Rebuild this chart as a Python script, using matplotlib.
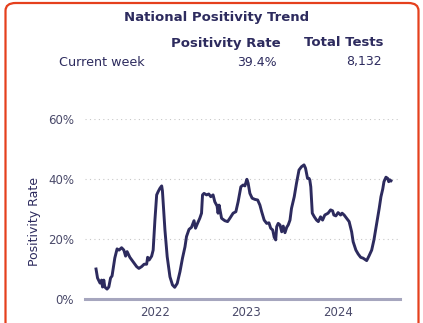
import matplotlib
matplotlib.use('Agg')
import matplotlib.pyplot as plt
import matplotlib.dates as mdates
from matplotlib.patches import FancyBboxPatch
import pandas as pd

# Weekly positivity readings (date, percent)
dates = [
    '2021-05-11', '2021-05-17', '2021-05-27', '2021-06-02', '2021-06-06', '2021-06-11',
    '2021-06-15', '2021-06-24', '2021-07-01', '2021-07-08', '2021-07-14', '2021-07-25',
    '2021-08-03', '2021-08-11', '2021-08-21', '2021-08-30', '2021-09-06', '2021-09-12',
    '2021-09-23', '2021-10-06', '2021-10-20', '2021-10-29', '2021-11-09', '2021-11-19',
    '2021-11-29', '2021-12-03', '2021-12-09', '2021-12-19', '2021-12-25', '2022-01-01',
    '2022-01-08', '2022-01-14', '2022-01-21', '2022-01-28', '2022-01-31', '2022-02-04',
    '2022-02-10', '2022-02-19', '2022-03-02', '2022-03-12', '2022-03-21', '2022-03-31',
    '2022-04-11', '2022-04-21', '2022-05-01', '2022-05-07', '2022-05-17', '2022-05-27',
    '2022-06-06', '2022-06-12', '2022-06-20', '2022-06-29', '2022-07-06', '2022-07-10',
    '2022-07-16', '2022-07-26', '2022-08-04', '2022-08-12', '2022-08-21', '2022-08-28',
    '2022-09-06', '2022-09-10', '2022-09-14', '2022-09-24', '2022-10-07', '2022-10-18',
    '2022-10-27', '2022-11-09', '2022-11-20', '2022-11-29', '2022-12-10', '2022-12-19',
    '2022-12-26', '2023-01-03', '2023-01-08', '2023-01-15', '2023-01-24', '2023-02-04',
    '2023-02-15', '2023-02-24', '2023-03-03', '2023-03-13', '2023-03-23', '2023-04-01',
    '2023-04-08', '2023-04-16', '2023-04-22', '2023-04-28', '2023-05-02', '2023-05-08',
    '2023-05-15', '2023-05-22', '2023-05-28', '2023-06-04', '2023-06-11', '2023-06-17',
    '2023-06-24', '2023-06-30', '2023-07-11', '2023-07-20', '2023-07-30', '2023-08-09',
    '2023-08-19', '2023-08-25', '2023-09-02', '2023-09-08', '2023-09-11', '2023-09-15',
    '2023-09-21', '2023-09-29', '2023-10-08', '2023-10-15', '2023-10-24', '2023-11-01',
    '2023-11-10', '2023-11-23', '2023-12-03', '2023-12-11', '2023-12-16', '2023-12-24',
    '2024-01-02', '2024-01-12', '2024-01-18', '2024-01-26', '2024-02-05', '2024-02-15',
    '2024-02-25', '2024-03-02', '2024-03-13', '2024-03-22', '2024-04-01', '2024-04-11',
    '2024-04-25', '2024-05-04', '2024-05-15', '2024-05-24', '2024-06-04', '2024-06-14',
    '2024-06-21', '2024-06-28', '2024-07-03', '2024-07-11', '2024-07-18', '2024-07-22',
    '2024-07-27', '2024-07-31',
]
positivity = [
    10.0, 7.0, 5.3, 6.3, 4.0, 6.3,
    4.0, 3.3, 4.0, 7.0, 7.7, 13.7,
    16.7, 16.3, 17.1, 16.3, 14.3, 15.8,
    13.9, 12.4, 10.8, 10.2, 10.8, 11.6,
    11.6, 13.9, 13.0, 14.3, 16.3, 26.3,
    34.7, 35.8, 36.9, 37.7, 36.0, 31.0,
    23.0, 14.1, 7.4, 4.7, 3.9, 5.2,
    9.1, 13.6, 17.4, 20.8, 23.2, 23.9,
    26.1, 23.6, 25.2, 26.9, 28.6, 34.7,
    35.2, 34.7, 35.0, 34.1, 34.7, 32.4,
    31.0, 28.6, 31.3, 26.9, 26.1, 25.8,
    26.9, 28.6, 29.1, 32.4, 37.4, 38.0,
    37.7, 39.9, 38.6, 35.2, 33.6, 33.2,
    33.0, 31.3, 29.1, 26.3, 25.2, 25.4,
    23.6, 23.0, 20.6, 19.7, 24.1, 25.2,
    24.7, 22.4, 24.3, 22.1, 23.9, 24.7,
    26.3, 30.2, 34.1, 38.6, 43.0, 44.1,
    44.7, 43.6, 40.2, 40.2, 39.7, 37.4,
    28.6, 27.4, 26.3, 25.8, 27.4, 26.3,
    28.0, 28.6, 29.7, 29.4, 28.0, 27.7,
    28.8, 28.0, 28.6, 28.0, 26.9, 25.8,
    22.4, 19.1, 16.3, 15.0, 13.9, 13.6,
    12.8, 14.3, 16.3, 19.7, 25.2, 30.2,
    34.1, 36.6, 39.1, 40.6, 40.2, 39.1,
    39.7, 39.4,
]

current_rate = '39.4%'
total_tests = '8,132'
y_ticks = [0, 20, 40, 60]

navy = '#2d2b5e'
label_col = '#4a4a6a'

fig = plt.figure(figsize=(4.23, 3.23), dpi=100)

# rounded red card border
card = FancyBboxPatch((5.5 / 423, -0.2), 413 / 423, 1.2 - 3 / 323,
                      boxstyle='round,pad=0,rounding_size=0.024',
                      transform=fig.transFigure, fill=False,
                      edgecolor='#e5401d', linewidth=1.6)
fig.patches.append(card)

fig.text(217 / 423, 1 - 18 / 323, 'National Positivity Trend', ha='center', va='center',
         fontsize=9.5, fontweight='bold', color=navy)
fig.text(226 / 423, 1 - 43 / 323, 'Positivity Rate', ha='center', va='center',
         fontsize=9.5, fontweight='bold', color=navy)
fig.text(344 / 423, 1 - 43 / 323, 'Total Tests', ha='center', va='center',
         fontsize=9.5, fontweight='bold', color=navy)
fig.text(59 / 423, 1 - 62 / 323, 'Current week', ha='left', va='center',
         fontsize=9.2, color=navy)
fig.text(277 / 423, 1 - 62 / 323, current_rate, ha='right', va='center',
         fontsize=9, color=navy)
fig.text(382 / 423, 1 - 62 / 323, total_tests, ha='right', va='center',
         fontsize=9, color=navy)

ax = fig.add_axes([85 / 423, 24 / 323, 315 / 423, 180 / 323])
ax.plot(pd.to_datetime(dates), positivity, color=navy, linewidth=2.1,
        solid_joinstyle='round')

ax.set_xlim(pd.Timestamp('2021-03-28'), pd.Timestamp('2024-09-05'))
ax.set_ylim(0, 60)
ax.set_yticks(y_ticks)
ax.set_yticklabels([f'{t}%' for t in y_ticks])
ax.xaxis.set_major_locator(mdates.YearLocator())
ax.xaxis.set_major_formatter(mdates.DateFormatter('%Y'))

for t in y_ticks[1:]:
    ax.axhline(t, color='#c8c8c8', linewidth=0.8, linestyle=(0, (1, 3)), zorder=0)

for side in ['top', 'right', 'left']:
    ax.spines[side].set_visible(False)
ax.spines['bottom'].set_color('#a6a6be')
ax.spines['bottom'].set_linewidth(2.2)
ax.tick_params(axis='both', length=0, labelsize=8.5, labelcolor=label_col)
ax.tick_params(axis='y', pad=8)
ax.tick_params(axis='x', pad=5)
ax.set_ylabel('Positivity Rate', fontsize=9, color=navy)
ax.yaxis.set_label_coords(-0.14, 0.43)

fig.savefig('out.png', dpi=100)
